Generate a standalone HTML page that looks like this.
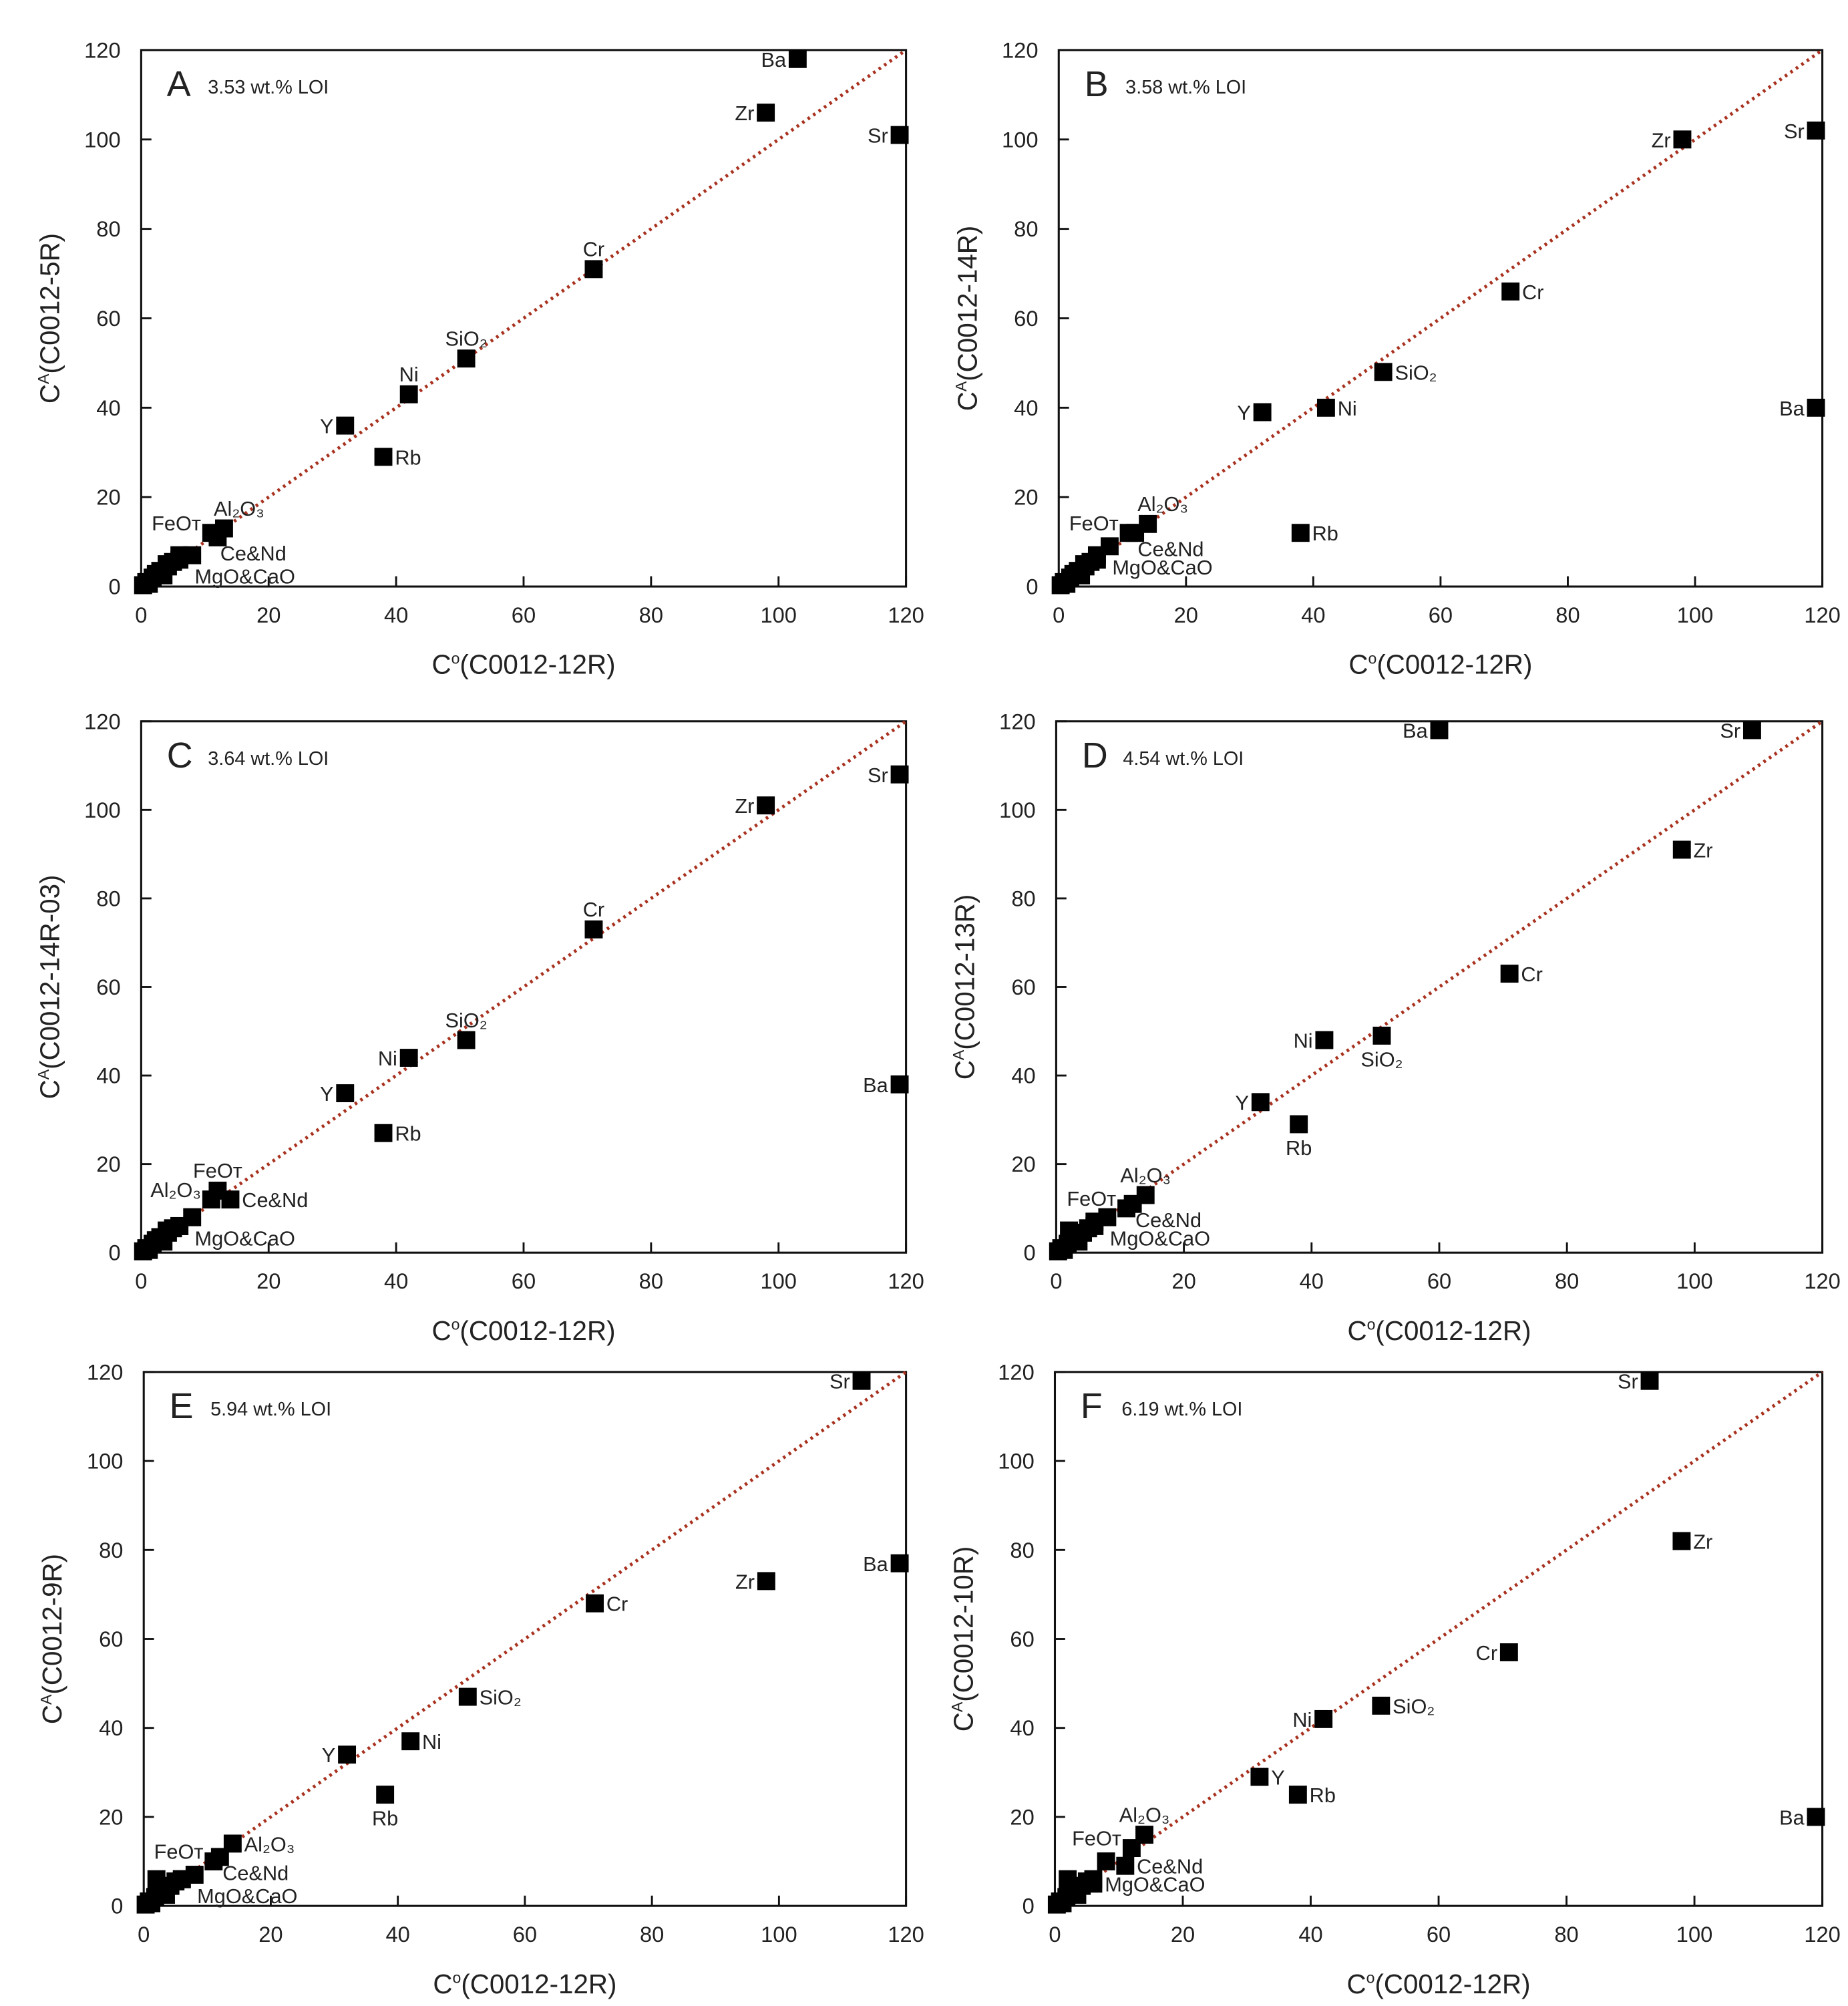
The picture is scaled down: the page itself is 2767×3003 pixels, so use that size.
<!DOCTYPE html>
<html><head><meta charset="utf-8"><style>
html,body{margin:0;padding:0;background:#fff}
svg{display:block}
text{font-family:"Liberation Sans",sans-serif;fill:#222}
</style></head><body>
<svg id="fig" width="2767" height="3003" viewBox="0 0 1440 1563" preserveAspectRatio="none" xmlns="http://www.w3.org/2000/svg"></svg>
<script>
const panelLetters = ["A","B","C","D","E","F"];
const panelLOI = ["3.53 wt.% LOI","3.58 wt.% LOI","3.64 wt.% LOI","4.54 wt.% LOI","5.94 wt.% LOI","6.19 wt.% LOI"];
const yTitles = ["C0012-5R","C0012-14R","C0012-14R-03","C0012-13R","C0012-9R","C0012-10R"];
const tickValues = [0,20,40,60,80,100,120];
const clusterX = [0.3,0.8,1.2,1.8,2.3,3,3.5,4.2,5,6];
const clusterY = [0.3,1,0.6,2,2.8,3.5,2.5,4.5,5.5,6];
const ptsA = [["Ba",103,118,"l"],["Zr",98,106,"l"],["Sr",119,101,"l"],["Cr",71,71,"a"],["SiO₂",51,51,"a"],["Ni",42,43,"a"],["Y",32,36,"l"],["Rb",38,29,"r"],["Al₂O₃",13,13,"ar"],["FeOᴛ",11,12,"al"],["Ce&Nd",12,11,"br"],["MgO&CaO",8,7,"br2"],["",6,7,""],["",4,5,""]];
const ptsB = [["Zr",98,100,"l"],["Sr",119,102,"l"],["Cr",71,66,"r"],["SiO₂",51,48,"r"],["Ni",42,40,"r"],["Y",32,39,"l"],["Ba",119,40,"l"],["Rb",38,12,"r"],["Al₂O₃",14,14,"ar"],["FeOᴛ",11,12,"al"],["Ce&Nd",12,12,"br"],["MgO&CaO",8,9,"br2"],["",6,7,""],["",4,5,""]];
const ptsC = [["Zr",98,101,"l"],["Sr",119,108,"l"],["Cr",71,73,"a"],["SiO₂",51,48,"a"],["Ni",42,44,"l"],["Y",32,36,"l"],["Rb",38,27,"r"],["Ba",119,38,"l"],["FeOᴛ",12,14,"a"],["Al₂O₃",11,12,"al"],["Ce&Nd",14,12,"r"],["MgO&CaO",8,8,"br2"],["",6,6,""],["",4,5,""]];
const ptsD = [["Ba",60,118,"l"],["Sr",109,118,"l"],["Zr",98,91,"r"],["Cr",71,63,"r"],["Ni",42,48,"l"],["SiO₂",51,49,"b"],["Y",32,34,"l"],["Rb",38,29,"b"],["Al₂O₃",14,13,"a"],["FeOᴛ",11,10,"al"],["Ce&Nd",12,11,"br"],["MgO&CaO",8,8,"br2"],["",6,7,""],["",2,5,""]];
const ptsE = [["Sr",113,118,"l"],["Ba",119,77,"l"],["Zr",98,73,"l"],["Cr",71,68,"r"],["SiO₂",51,47,"r"],["Ni",42,37,"r"],["Y",32,34,"l"],["Rb",38,25,"b"],["Al₂O₃",14,14,"r"],["FeOᴛ",11,10,"al"],["Ce&Nd",12,11,"br"],["MgO&CaO",8,7,"br2"],["",2,6,""],["",6,6,""]];
const ptsF = [["Sr",93,118,"l"],["Zr",98,82,"r"],["Cr",71,57,"l"],["SiO₂",51,45,"r"],["Ni",42,42,"l"],["Y",32,29,"r"],["Rb",38,25,"r"],["Ba",119,20,"l"],["Al₂O₃",14,16,"a"],["FeOᴛ",12,13,"al"],["Ce&Nd",11,9,"r"],["MgO&CaO",6,5,"r"],["",8,10,""],["",2,6,""]];
const panelPoints = [ptsA,ptsB,ptsC,ptsD,ptsE,ptsF];
const boxes = [[110,39,706,457],[825,39,1420,457],[110,562,706,976],[823,562,1420,976],[112,1069,706,1485],[822,1069,1420,1485]];
const NS="http://www.w3.org/2000/svg";
const svg=document.getElementById('fig');
function mk(tag,attrs,parent){const e=document.createElementNS(NS,tag);for(const k in attrs)e.setAttribute(k,attrs[k]);(parent||svg).appendChild(e);return e;}
boxes.forEach((b,i)=>{
  const [x0,y0,x1,y1]=b;
  const g=mk('g',{});
  
  
  const sx=v=>x0+(x1-x0)*v/120, sy=v=>y1-(y1-y0)*v/120;
  const frame=mk('rect',{x:x0,y:y0,width:x1-x0,height:y1-y0,fill:'none',stroke:'#111','stroke-width':1.6},g);
  
  
  tickValues.forEach(t=>{
    mk('line',{x1:sx(t),x2:sx(t),y1:y1,y2:y1-8,stroke:'#111','stroke-width':1.5},g);
    mk('line',{x1:x0,x2:x0+8,y1:sy(t),y2:sy(t),stroke:'#111','stroke-width':1.5},g);
    const xl=mk('text',{x:sx(t),y:y1+28,'text-anchor':'middle','font-size':17},g);xl.textContent=t;
    
    
    const yl=mk('text',{x:x0-16,y:sy(t)+6,'text-anchor':'end','font-size':17},g);yl.textContent=t;
    
    
  });
  const ln=mk('line',{x1:sx(0),y1:sy(0),x2:sx(120),y2:sy(120),stroke:'#a8321f','stroke-width':2.6,'stroke-dasharray':'2 3.2'},g);
  
  
  const xt=mk('text',{x:(x0+x1)/2,y:y1+68,'text-anchor':'middle','font-size':21},g);
  xt.innerHTML='C<tspan dy="-8" font-size="12">o</tspan><tspan dy="8">(C0012-12R)</tspan>';
  
  
  const cy=(y0+y1)/2, cx=x0-64;
  const yt=mk('text',{x:cx,y:cy,'text-anchor':'middle','font-size':21,transform:`rotate(-90 ${cx} ${cy})`},g);
  yt.innerHTML='C<tspan dy="-8" font-size="12">A</tspan><tspan dy="8">('+yTitles[i]+')</tspan>';
  
  
  const pl=mk('text',{x:x0+20,y:y0+36,'font-size':28},g);pl.textContent=panelLetters[i];
  
  
  const lo=mk('text',{x:x0+52,y:y0+34,'font-size':15},g);lo.textContent=panelLOI[i];
  
  
  const S=14;
  clusterX.forEach((cxv,j)=>{
    const r=mk('rect',{x:sx(cxv)-S/2,y:sy(clusterY[j])-S/2,width:S,height:S,fill:'#000'},g);
    
    
  });
  panelPoints[i].forEach(p=>{
    const [lab,px,py,side]=p;
    const X=sx(px),Y=sy(py);
    const r=mk('rect',{x:X-S/2,y:Y-S/2,width:S,height:S,fill:'#000'},g);
    
    
    if(!lab)return;
    let tx=X,ty=Y+6,anc='start';
    if(side==='l'){tx=X-9;anc='end';}
    else if(side==='r'){tx=X+9;}
    else if(side==='a'){ty=Y-10;anc='middle';}
    else if(side==='b'){ty=Y+24;anc='middle';}
    else if(side==='ar'){tx=X-8;ty=Y-10;}
    else if(side==='al'){tx=X-8;ty=Y-2;anc='end';}
    else if(side==='br'){tx=X+2;ty=Y+18;}
    else if(side==='br2'){tx=X+2;ty=Y+22;}
    const t=mk('text',{x:tx,y:ty,'text-anchor':anc,'font-size':16,fill:'#333'},g);t.textContent=lab;
    
    
  });
});
</script>
</body></html>
